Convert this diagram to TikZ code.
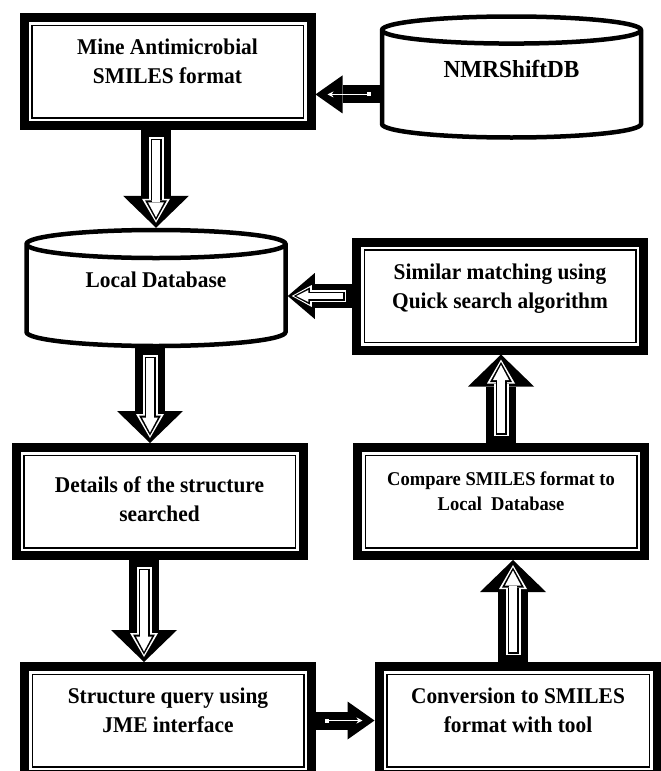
\documentclass[tikz,border=0pt]{standalone}
\usepackage{fontspec}
\setmainfont{Liberation Serif}[FakeStretch=0.95]
\usetikzlibrary{arrows.meta,shapes.geometric}

\begin{document}
\begin{tikzpicture}
		[x=1pt,y=-1pt,
		box node/.style={rectangle,draw,line width=9pt,minimum width=287pt,minimum height=108pt,
			align=center,text depth=20pt,font=\bfseries\fontsize{22.5}{29}\selectfont,
			path picture={\draw[line width=1.5pt] ([shift={(7.75pt,7.75pt)}]path picture bounding box.south west) rectangle ([shift={(-7.75pt,-7.75pt)}]path picture bounding box.north east);}},
		db node/.style={cylinder,shape border rotate=90,aspect=0.19,draw,line width=4.5pt,anchor=shape center,
			minimum width=259pt,minimum height=116pt,text depth=36pt,font=\bfseries\fontsize{22.5}{29}\selectfont},
		flow arrow/.style={line width=30pt,-{Triangle[length=32pt,width=66pt,line width=0pt]},
			postaction={draw=white,line width=15pt,-{Triangle[length=24pt,width=28pt,line width=0pt]},shorten >=5pt,shorten <=7pt},
			postaction={draw=black,line width=11pt,-{Triangle[length=20pt,width=22pt,line width=0pt]},shorten >=7.5pt,shorten <=8.5pt},
			postaction={draw=white,line width=8pt,-{Triangle[length=15pt,width=16pt,line width=0pt]},shorten >=10.5pt,shorten <=10pt}},
		side arrow/.style={line width=24pt,-{Triangle[length=27pt,width=46pt,line width=0pt]},
			postaction={draw=white,line width=12pt,-{Triangle[length=20pt,width=22pt,line width=0pt]},shorten >=4pt,shorten <=6pt},
			postaction={draw=black,line width=9pt,-{Triangle[length=16pt,width=17pt,line width=0pt]},shorten >=6pt,shorten <=7.5pt},
			postaction={draw=white,line width=6pt,-{Triangle[length=12pt,width=12pt,line width=0pt]},shorten >=8.5pt,shorten <=9pt}},
		link arrow/.style={line width=18pt,-{Triangle[length=27pt,width=38pt,line width=0pt]},
			postaction={draw=white,line width=1pt,{Square[length=4pt,width=4pt]}-{Stealth[length=6pt,width=6pt]},shorten >=12pt,shorten <=9pt}}]
		\useasboundingbox (0,0) rectangle (661,771);
		\clip (0,0) rectangle (661,771);
		
		\node[box node] (1) at (167.5,71.5) {Mine Antimicrobial\\SMILES format};
		\node[db node,minimum height=121pt,font=\bfseries\fontsize{24.5}{29}\selectfont] (2) at (511.5,77) {NMRShiftDB};
		\node[db node] (3) at (156,288) {Local Database};
		\node[box node] (4) at (500,296) {Similar matching using\\Quick search algorithm};
		\node[box node,text depth=4pt] (5) at (159.5,501.5) {Details of the structure\\searched};
		\node[box node,font=\bfseries\fontsize{19.5}{25}\selectfont] (6) at (501,501.5) {Compare SMILES format to\\Local\ \ Database};
		\node[box node] (7) at (168,720.5) {Structure query using\\JME interface};
		\node[box node,minimum width=278pt] (8) at (518,720.5) {Conversion to SMILES\\format with tool};
		
		\coordinate (2o) at ([yshift=-8pt]2.west);
		\draw[link arrow] (2o) to (2o -| 1.east);
		\draw[flow arrow] (1.south -| 3.north) to (3.north);
		\draw[side arrow] (4.west) to (4.west -| 3.east);
		\draw[flow arrow] ([xshift=-6pt]3.south) to ([xshift=-6pt]3.south |- 5.north);
		\draw[flow arrow] ([xshift=-15.5pt]5.south) to ([xshift=-15.5pt]5.south |- 7.north);
		\draw[link arrow] (7.east) to (8.west);
		\draw[flow arrow] ([xshift=12pt]6.south |- 8.north) to ([xshift=12pt]6.south);
		\draw[flow arrow] (6.north) to (6.north |- 4.south);
		\end{tikzpicture}
\end{document}
